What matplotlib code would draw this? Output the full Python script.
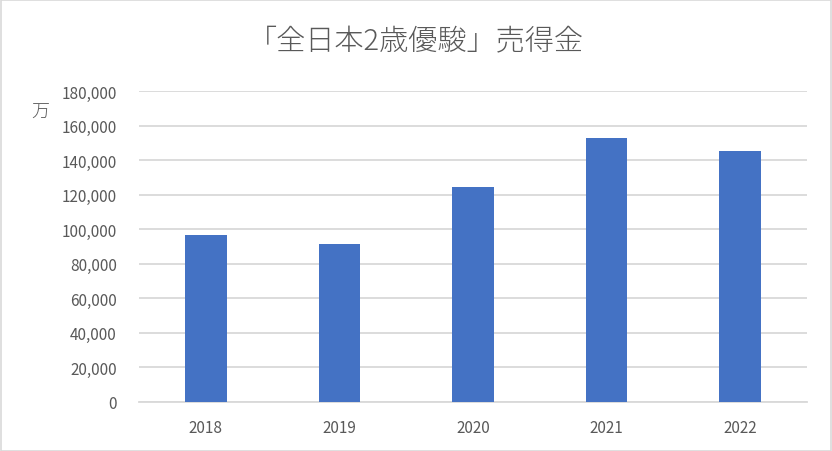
import matplotlib
matplotlib.use("Agg")
import matplotlib.pyplot as plt
from matplotlib.ticker import FuncFormatter
from matplotlib.patches import Rectangle

plt.rcParams['font.family'] = ['Noto Sans CJK JP', 'DejaVu Sans']

title = "「全日本2歳優駿」売得金"
unit_label = "万"
years = ["2018", "2019", "2020", "2021", "2022"]
sales = [96400, 91200, 124400, 152900, 145400]
yticks = [0, 20000, 40000, 60000, 80000, 100000, 120000, 140000, 160000, 180000]

text_color = "#595959"
bar_color = "#4472C4"
grid_color = "#D9D9D9"

fig = plt.figure(figsize=(8.32, 4.52), dpi=100)
W, H = 832, 452
ax = fig.add_axes([139 / W, 1 - 403 / H, (807 - 139) / W, (403 - 92) / H])

x = list(range(len(years)))
ax.bar(x, sales, width=0.31, color=bar_color, zorder=3)
ax.set_xlim(-0.5, len(years) - 0.5)
ax.set_ylim(0, 180000)
ax.set_yticks(yticks)
ax.yaxis.set_major_formatter(FuncFormatter(lambda v, p: f"{int(v):,}"))
ax.set_xticks(x)
ax.set_xticklabels(years)
ax.grid(axis='y', color=grid_color, linewidth=1.3, zorder=0)
for s in ['top', 'right', 'left']:
    ax.spines[s].set_visible(False)
ax.spines['bottom'].set_color(grid_color)
ax.spines['bottom'].set_linewidth(1.3)
ax.tick_params(axis='both', length=0, colors=text_color, labelsize=11)
ax.tick_params(axis='y', pad=16)
ax.tick_params(axis='x', pad=12)

fig.text(0.5, 1 - 42 / H, title, ha='center', va='center', fontsize=21, fontweight='light', color=text_color)
fig.text(40 / W, 1 - 113 / H, unit_label, ha='center', va='center', fontsize=13, fontweight='light', color=text_color)

fig.patches.append(Rectangle((0.5 / W, 0.5 / H), 1 - 1.5 / W, 1 - 1.5 / H, transform=fig.transFigure,
                             fill=False, edgecolor="#D9D9D9", linewidth=1.2))

fig.savefig("out.png", dpi=100, facecolor="white")
